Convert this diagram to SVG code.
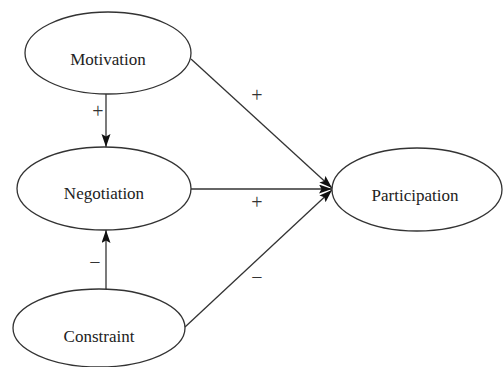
<svg xmlns="http://www.w3.org/2000/svg" width="503" height="367" viewBox="0 0 503 367">
<style>
.node ellipse{fill:#fff;stroke:#333;stroke-width:1.3}
.node text{font-family:'Liberation Serif','Times New Roman',serif;font-size:17px;fill:#222;text-anchor:middle}
.edge{stroke:#333;stroke-width:1.3;fill:none}
.sign{font-family:'Liberation Serif','Times New Roman',serif;font-size:20px;fill:#333;text-anchor:middle}
</style>
<defs>
<marker id="arr" markerUnits="userSpaceOnUse" markerWidth="14" markerHeight="10" refX="13" refY="4.5" orient="auto">
<path d="M0,0 L13,4.5 L0,9 L2.5,4.5 Z" fill="#111"/>
</marker>
</defs>
<rect width="503" height="367" fill="#fff"/>
<g id="connectors">
<line class="edge" x1="106" y1="94" x2="106" y2="147" marker-end="url(#arr)"/>
<line class="edge" x1="106" y1="289" x2="106" y2="230" marker-end="url(#arr)"/>
<line class="edge" x1="191" y1="59" x2="332" y2="188" marker-end="url(#arr)"/>
<line class="edge" x1="191" y1="189" x2="332" y2="189" marker-end="url(#arr)"/>
<line class="edge" x1="185" y1="327" x2="332" y2="190" marker-end="url(#arr)"/>
<text class="sign" x="98" y="118">+</text>
<text class="sign" x="95" y="269">−</text>
<text class="sign" x="257" y="102">+</text>
<text class="sign" x="257" y="209">+</text>
<text class="sign" x="257" y="284">−</text>
</g>
<g id="motivation" class="node">
<ellipse cx="108" cy="53" rx="83" ry="41"/>
<text x="108" y="65">Motivation</text>
</g>
<g id="negotiation" class="node">
<ellipse cx="104" cy="188.5" rx="87" ry="41.5"/>
<text x="104" y="199">Negotiation</text>
</g>
<g id="constraint" class="node">
<ellipse cx="99" cy="328" rx="86" ry="39"/>
<text x="99" y="342">Constraint</text>
</g>
<g id="participation" class="node">
<ellipse cx="417" cy="189.5" rx="85" ry="41.5"/>
<text x="415" y="201">Participation</text>
</g>
</svg>
